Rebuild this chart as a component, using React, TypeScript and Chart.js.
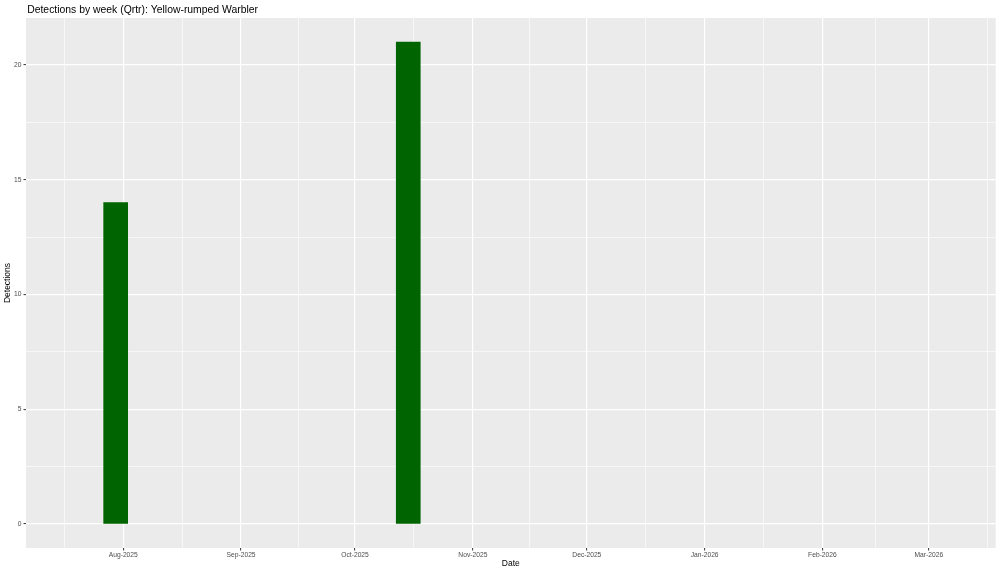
import React, { useEffect, useRef } from "react";
import { Chart, registerables } from "chart.js";

Chart.register(...registerables);

const TITLE = "Detections by week (Qrtr): Yellow-rumped Warbler";
const X_TITLE = "Date";
const Y_TITLE = "Detections";

const weekDates = ["2025-07-30", "2025-10-15"];
const detections = [14, 21];

const xLimits = ["2025-07-18", "2026-03-07"];
const monthBreaks = [
  "2025-07-01", "2025-08-01", "2025-09-01", "2025-10-01", "2025-11-01",
  "2025-12-01", "2026-01-01", "2026-02-01", "2026-03-01", "2026-04-01",
];
const monthNames = ["Jan", "Feb", "Mar", "Apr", "May", "Jun", "Jul", "Aug", "Sep", "Oct", "Nov", "Dec"];

const yLimits = [0, 21];
const yBreaks = [0, 5, 10, 15, 20];

const EXPAND = 0.05;
const FONT = '"Liberation Sans", Arial, Helvetica, sans-serif';

const toDay = (s: string) => {
  const [y, m, d] = s.split("-").map(Number);
  return Date.UTC(y, m - 1, d) / 86400000;
};
const fmtMonth = (s: string) => {
  const [y, m] = s.split("-").map(Number);
  return monthNames[m - 1] + "-" + y;
};

export default function App() {
  const ref = useRef<HTMLCanvasElement | null>(null);

  useEffect(() => {
    const canvas = ref.current;
    if (!canvas) return;

    const xl0 = toDay(xLimits[0]);
    const xl1 = toDay(xLimits[1]);
    const xpad = (xl1 - xl0) * EXPAND;
    const xMin = xl0 - xpad;
    const xMax = xl1 + xpad;
    const ypad = (yLimits[1] - yLimits[0]) * EXPAND;
    const yMin = yLimits[0] - ypad;
    const yMax = yLimits[1] + ypad;

    const xLabelMap = new Map<number, string>();
    const xTicks: { value: number; minor?: boolean }[] = [];
    for (let i = 0; i < monthBreaks.length; i++) {
      const v = toDay(monthBreaks[i]);
      xLabelMap.set(v, fmtMonth(monthBreaks[i]));
      xTicks.push({ value: v });
      if (i < monthBreaks.length - 1) {
        const nv = toDay(monthBreaks[i + 1]);
        xTicks.push({ value: (v + nv) / 2, minor: true });
      }
    }
    const xTicksIn = xTicks.filter((t) => t.value >= xMin && t.value <= xMax);

    const yTicks: { value: number; minor?: boolean }[] = [];
    for (let i = 0; i < yBreaks.length; i++) {
      yTicks.push({ value: yBreaks[i] });
      if (i < yBreaks.length - 1) yTicks.push({ value: (yBreaks[i] + yBreaks[i + 1]) / 2, minor: true });
    }
    const yTicksIn = yTicks.filter((t) => t.value >= yMin && t.value <= yMax);

    const gridWidth = (c: any) => (c.tick && c.tick.minor ? 0.6 : 1.2);
    const tickCol = (c: any) => (c.tick && c.tick.minor ? "rgba(0,0,0,0)" : "#333333");

    const bgPlugin = {
      id: "ggBackground",
      beforeDraw(chart: any) {
        const { ctx, chartArea } = chart;
        ctx.save();
        ctx.fillStyle = "#FFFFFF";
        ctx.fillRect(0, 0, chart.width, chart.height);
        ctx.fillStyle = "#EBEBEB";
        ctx.fillRect(chartArea.left, chartArea.top, chartArea.right - chartArea.left, chartArea.bottom - chartArea.top);
        ctx.restore();
      },
    };
    const titlePlugin = {
      id: "ggTitle",
      afterDraw(chart: any) {
        const { ctx, chartArea } = chart;
        ctx.save();
        ctx.font = `10.4px ${FONT}`;
        ctx.fillStyle = "#000000";
        ctx.textAlign = "left";
        ctx.textBaseline = "alphabetic";
        ctx.fillText(TITLE, chartArea.left + 1.2, 13);
        ctx.restore();
      },
    };

    const chart = new Chart(canvas, {
      type: "bar",
      data: {
        datasets: [
          {
            label: "Detections",
            data: weekDates.map((d, i) => ({ x: toDay(d), y: detections[i] })),
            backgroundColor: "#006400",
            borderWidth: 0,
            barThickness: 24,
          } as any,
        ],
      },
      options: {
        animation: false,
        responsive: false,
        devicePixelRatio: 1,
        layout: { padding: { top: 18, right: 4.3, left: 0, bottom: 0 } },
        plugins: {
          legend: { display: false },
          tooltip: { enabled: false },
          title: { display: false },
        },
        scales: {
          x: {
            type: "linear",
            min: xMin,
            max: xMax,
            offset: false,
            border: { display: false },
            grid: {
              offset: false,
              color: "#FFFFFF",
              lineWidth: gridWidth as any,
              drawTicks: true,
              tickLength: 2.5,
              tickColor: tickCol as any,
              tickWidth: 1,
            },
            ticks: {
              autoSkip: false,
              maxRotation: 0,
              minRotation: 0,
              padding: 1,
              color: "#4D4D4D",
              font: { family: FONT, size: 6.7 },
              callback: (v: any) => xLabelMap.get(Number(v)) ?? "",
            },
            afterBuildTicks: (scale: any) => {
              scale.ticks = xTicksIn.map((t) => ({ ...t }));
            },
            afterFit: (scale: any) => {
              scale.height = 25;
            },
            title: {
              display: true,
              text: X_TITLE,
              color: "#000000",
              font: { family: FONT, size: 8.5 },
              padding: { top: 0, bottom: 4 },
            },
          },
          y: {
            type: "linear",
            min: yMin,
            max: yMax,
            border: { display: false },
            grid: {
              color: "#FFFFFF",
              lineWidth: gridWidth as any,
              drawTicks: true,
              tickLength: 2.5,
              tickColor: tickCol as any,
              tickWidth: 1,
            },
            ticks: {
              autoSkip: false,
              padding: 2,
              color: "#4D4D4D",
              font: { family: FONT, size: 6.7 },
              callback: (v: any) => (yBreaks.includes(Number(v)) ? String(v) : ""),
            },
            afterBuildTicks: (scale: any) => {
              scale.ticks = yTicksIn.map((t) => ({ ...t }));
            },
            afterFit: (scale: any) => {
              scale.width = 26;
            },
            title: {
              display: true,
              text: Y_TITLE,
              color: "#000000",
              font: { family: FONT, size: 8.5 },
              padding: { top: 3, bottom: 0 },
            },
          },
        },
      },
      plugins: [bgPlugin, titlePlugin],
    });

    return () => chart.destroy();
  }, []);

  return (
    <div style={{ position: "fixed", left: 0, top: 0, width: 1000, height: 573, background: "#FFFFFF" }}>
      <canvas ref={ref} width={1000} height={573} style={{ display: "block", width: 1000, height: 573 }} />
    </div>
  );
}
